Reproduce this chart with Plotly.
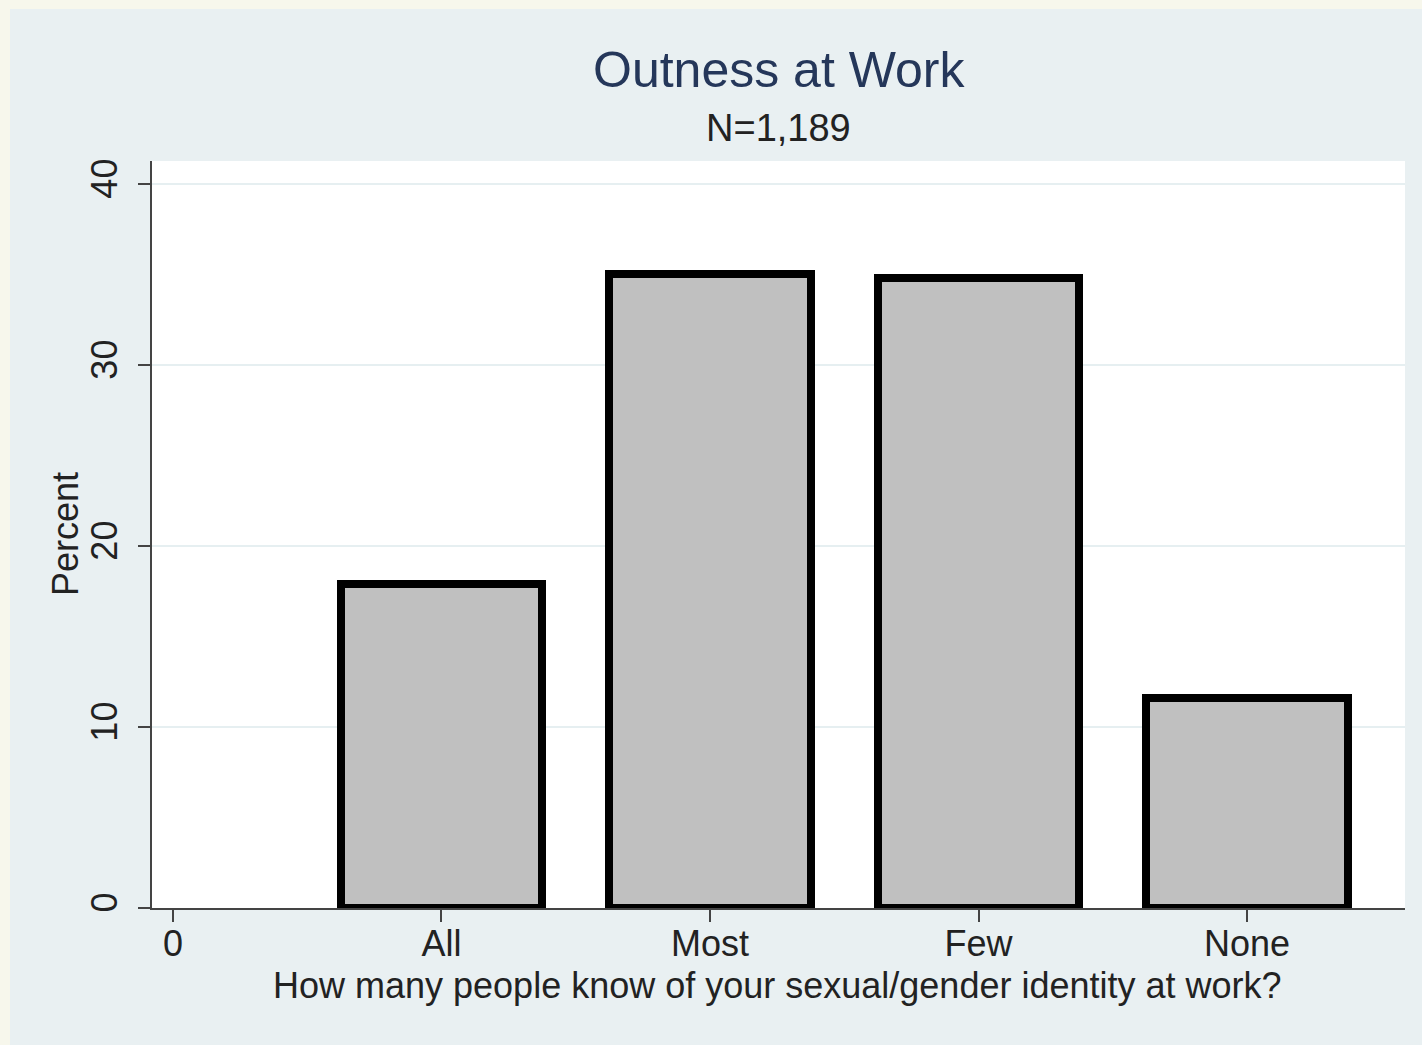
import plotly.graph_objects as go

# ---- data ----
categories = ["All", "Most", "Few", "None"]
percent = [17.9, 35.05, 34.8, 11.6]
tick_labels = ["0", "All", "Most", "Few", "None"]
y_ticks = [0, 10, 20, 30, 40]

title_text = "Outness at Work"
subtitle_text = "N=1,189"
x_title = "How many people know of your sexual/gender identity at work?"
y_title = "Percent"

# ---- layout constants ----
W, H = 1422, 1045
ML, MR, MT, MB = 152, 17, 161, 137
PW, PH = W - ML - MR, H - MT - MB

FONT = "Liberation Sans, Arial, Helvetica, sans-serif"
BLUE_BG = "#E9F0F2"
CREAM = "#F7F7EC"
TXT = "#222222"

x_pos = list(range(1, len(categories) + 1))
tick_pos = list(range(0, len(tick_labels)))

def px_x(px):
    return (px - ML) / PW

def px_y(py):
    return (H - MB - py) / PH

fig = go.Figure()
fig.add_trace(go.Bar(
    x=x_pos, y=percent, width=0.75,
    marker=dict(color="#C0C0C0", line=dict(color="#000000", width=8)),
    hoverinfo="skip", showlegend=False,
))

fig.update_layout(
    width=W, height=H,
    margin=dict(l=ML, r=MR, t=MT, b=MB, pad=0),
    paper_bgcolor=BLUE_BG, plot_bgcolor="#FFFFFF",
    font=dict(family=FONT, size=36, color=TXT),
    showlegend=False,
    bargap=0,
    xaxis=dict(
        range=[-0.078, 4.588], tickvals=tick_pos, ticktext=tick_labels,
        showgrid=False, zeroline=False,
        showline=True, linecolor="#444444", linewidth=1.5,
        ticks="outside", ticklen=12, tickwidth=1.5, tickcolor="#444444",
        ticklabelstandoff=-9,
        tickfont=dict(size=36, color=TXT),
    ),
    yaxis=dict(
        range=[0, 41.27], tickvals=y_ticks,
        showgrid=True, gridcolor="#E6EFF1", gridwidth=1.5,
        zeroline=False,
        showline=True, linecolor="#444444", linewidth=1.5,
        ticks="outside", ticklen=12, tickwidth=1.5, tickcolor="#444444",
        tickangle=-90, ticklabelstandoff=7,
        tickfont=dict(size=36, color=TXT),
    ),
    annotations=[
        dict(text=title_text, x=0.5, y=px_y(70), xref="paper", yref="paper",
             xanchor="center", yanchor="middle", showarrow=False,
             font=dict(size=50, color="#25375A", family=FONT)),
        dict(text=subtitle_text, x=0.5, y=px_y(128), xref="paper", yref="paper",
             xanchor="center", yanchor="middle", showarrow=False,
             font=dict(size=38, color=TXT, family=FONT)),
        dict(text=x_title, x=px_x(777), y=px_y(985), xref="paper", yref="paper",
             xanchor="center", yanchor="middle", showarrow=False,
             font=dict(size=36, color=TXT, family=FONT)),
        dict(text=y_title, x=px_x(65), y=px_y(534), xref="paper", yref="paper",
             xanchor="center", yanchor="middle", showarrow=False, textangle=-90,
             font=dict(size=36, color=TXT, family=FONT)),
    ],
    shapes=[
        dict(type="rect", xref="paper", yref="paper",
             x0=px_x(0), x1=px_x(10), y0=px_y(H), y1=px_y(0),
             fillcolor=CREAM, line=dict(width=0), layer="above"),
        dict(type="rect", xref="paper", yref="paper",
             x0=px_x(0), x1=px_x(W), y0=px_y(9), y1=px_y(0),
             fillcolor=CREAM, line=dict(width=0), layer="above"),
    ],
)

fig.write_html(
    "out.html",
    config={"displayModeBar": False},
    post_script="document.body.style.margin='0';document.body.style.background='%s';" % CREAM,
)
